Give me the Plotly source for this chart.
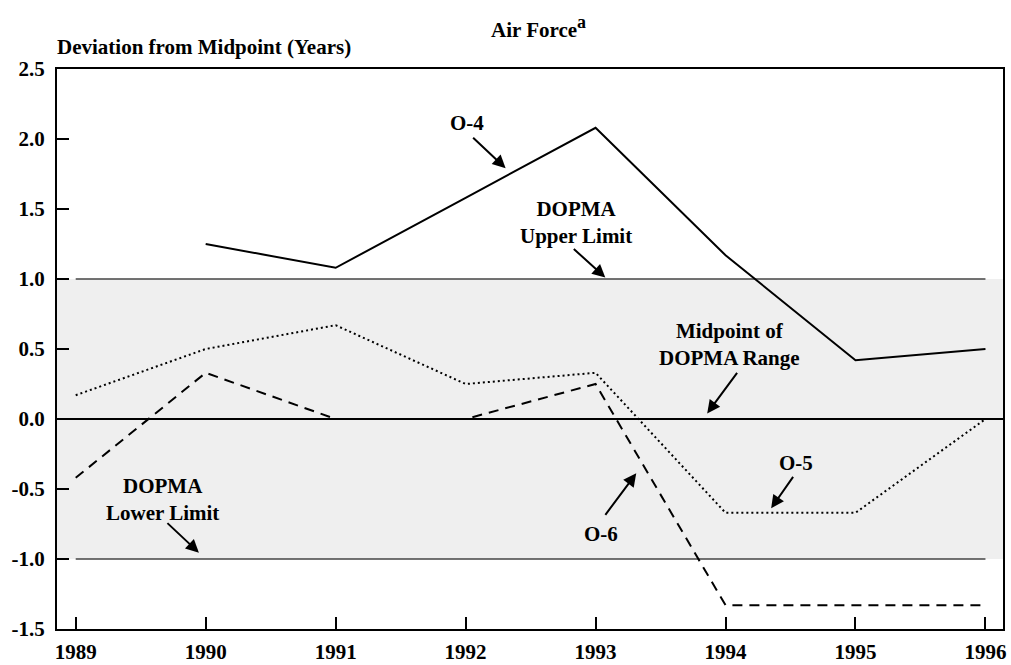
import plotly.graph_objects as go

years = [1989, 1990, 1991, 1992, 1993, 1994, 1995, 1996]
o4_years = [1990, 1991, 1992, 1993, 1994, 1995, 1996]
o4 = [1.25, 1.08, 1.58, 2.08, 1.17, 0.42, 0.50]
o5 = [0.17, 0.50, 0.67, 0.25, 0.33, -0.67, -0.67, 0.00]
o6 = [-0.42, 0.33, 0.00, 0.00, 0.25, -1.33, -1.33, -1.33]
upper_limit = 1.0
lower_limit = -1.0
midpoint = 0.0
y_ticks = [-1.5, -1.0, -0.5, 0.0, 0.5, 1.0, 1.5, 2.0, 2.5]
y_ticklabels = ["-1.5", "-1.0", "-0.5", "0.0", "0.5", "1.0", "1.5", "2.0", "2.5"]
x_ticklabels = [str(y) for y in years]

FONT = "Liberation Serif"
fsize = 21

fig = go.Figure()

# DOPMA limit lines
for lim in (upper_limit, lower_limit):
    fig.add_trace(go.Scatter(x=[years[0], years[-1]], y=[lim, lim], mode="lines",
                             line=dict(color="#444444", width=1.5), hoverinfo="skip",
                             showlegend=False))

fig.add_trace(go.Scatter(x=o4_years, y=o4, mode="lines", name="O-4",
                         line=dict(color="black", width=2), showlegend=False))
fig.add_trace(go.Scatter(x=years, y=o5, mode="lines", name="O-5",
                         line=dict(color="black", width=2, dash="2px,3px"), showlegend=False))
fig.add_trace(go.Scatter(x=years, y=o6, mode="lines", name="O-6",
                         line=dict(color="black", width=2, dash="10px,7px"), showlegend=False))

shapes = [
    dict(type="rect", xref="paper", x0=0, x1=1, yref="y", y0=lower_limit, y1=upper_limit,
         fillcolor="#efefef", line=dict(width=0), layer="below"),
    dict(type="line", xref="paper", x0=0, x1=1, yref="y", y0=midpoint, y1=midpoint,
         line=dict(color="black", width=2), layer="above"),
]

txt = dict(family=FONT, size=fsize, color="black", weight="bold")

def label(x, y, text):
    return dict(x=x, y=y, xref="x", yref="y", text=text, showarrow=False,
                font=txt, xanchor="center", yanchor="middle", align="center")

def arrow(x, y, ax, ay):
    return dict(x=x, y=y, xref="x", yref="y", text="", showarrow=True,
                ax=ax, ay=ay, arrowhead=2, arrowsize=1.3, arrowwidth=2,
                arrowcolor="black", standoff=0, startstandoff=0)

annotations = [
    label(1992.013, 2.112, "O-4"),
    arrow(1992.308, 1.791, -34, -32),
    label(1992.851, 1.401, "DOPMA<br>Upper Limit"),
    arrow(1993.075, 1.01, -33, -30),
    label(1994.031, 0.534, "Midpoint of<br>DOPMA Range"),
    arrow(1993.859, 0.04, 31, -42),
    label(1989.669, -0.576, "DOPMA<br>Lower Limit"),
    arrow(1989.948, -0.955, -33, -31),
    label(1993.044, -0.824, "O-6"),
    arrow(1993.313, -0.388, -32, 43),
    label(1994.543, -0.314, "O-5"),
    arrow(1994.351, -0.638, 23, -33),
    dict(x=0.5095, y=1 + (69 - 27) / 560, xref="paper", yref="paper",
         text="Air Force<sup><span style='font-size:18px'>a</span></sup>",
         showarrow=False, font=txt, xanchor="center", yanchor="middle"),
    dict(x=0, y=1.039, xref="paper", yref="paper", text="Deviation from Midpoint (Years)",
         showarrow=False, font=txt, xanchor="left", yanchor="middle", xshift=-2),
]

fig.update_layout(
    width=1011, height=665, autosize=False,
    margin=dict(l=57, r=8, t=69, b=36),
    paper_bgcolor="white", plot_bgcolor="white",
    shapes=shapes, annotations=annotations,
    showlegend=False,
    font=dict(family=FONT, size=fsize, color="black"),
    xaxis=dict(range=[1988.856, 1996.135], tickvals=years, ticktext=x_ticklabels,
               ticks="inside", ticklen=12, tickwidth=1.5, tickcolor="black",
               showline=True, linecolor="black", linewidth=2, mirror=True,
               showgrid=False, zeroline=False, ticklabelstandoff=3, automargin=False,
               tickfont=dict(family=FONT, size=fsize, color="black", weight="bold")),
    yaxis=dict(range=[-1.5, 2.5], tickvals=y_ticks, ticktext=y_ticklabels,
               ticks="inside", ticklen=12, tickwidth=1.5, tickcolor="black",
               showline=True, linecolor="black", linewidth=2, mirror=True,
               showgrid=False, zeroline=False, ticklabelstandoff=6, automargin=False,
               tickfont=dict(family=FONT, size=fsize, color="black", weight="bold")),
)

fig.write_html("out.html", config={"displayModeBar": False},
               post_script="document.body.style.margin='0';")
